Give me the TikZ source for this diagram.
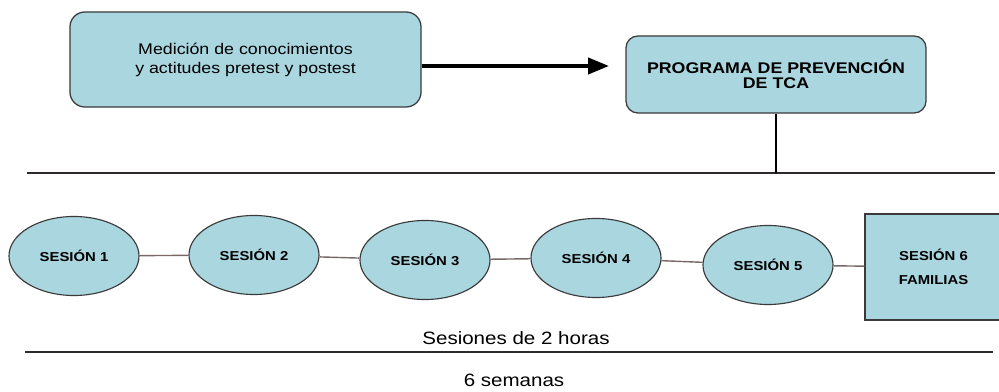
\documentclass[tikz,border=0pt]{standalone}
\usepackage{fontspec}
\setmainfont{Liberation Sans}[FakeStretch=1.15]
\usepackage{xcolor}
\usepackage{tikz}
\usetikzlibrary{arrows.meta,shapes.geometric}
\definecolor{tcaFill}{HTML}{AAD6E0}
\definecolor{tcaLine}{HTML}{3A3A3A}
\definecolor{tcaLink}{HTML}{7A6868}
\definecolor{tcaRule}{HTML}{2E2A2A}
\tikzset{
  tcabox/.style={
    rounded corners=#1,
    draw=tcaLine,
    fill=tcaFill,
    line width=0.9pt,
    align=center,
    inner sep=0pt
  },
  tcasesion/.style={
    ellipse,
    draw=tcaLine,
    fill=tcaFill,
    line width=0.8pt,
    minimum width=3.25cm,
    minimum height=1.975cm,
    inner sep=0pt,
    font=\fontsize{9.2}{11}\selectfont\bfseries
  },
  tcalink/.style={draw=tcaLink, line width=1pt},
  tcarule/.style={draw=tcaRule, line width=1.3pt},
  tcaarrow/.style={-{Triangle[length=15pt,width=11pt]}, line width=3.4pt, draw=black}
}

\begin{document}
\begin{tikzpicture}[x=0.025cm, y=-0.025cm, font=\fontsize{11}{13.5}\selectfont]
  \useasboundingbox (0,0) rectangle (999,392);

  \node[tcabox=0.375cm, minimum width=8.775cm, minimum height=2.375cm] (medicion) at (245.5,59.5) {Medición de conocimientos\\y actitudes pretest y postest};
  \node[tcabox=0.3cm, minimum width=7.5cm, minimum height=1.925cm, font=\fontsize{11}{10.8}\selectfont\bfseries] (programa) at (776,74.5) {PROGRAMA DE PREVENCIÓN\\DE TCA};

  \coordinate (flecha) at (0,66);
  \draw[tcaarrow, shorten >=0.4cm] (medicion.east |- flecha) -- (programa.west |- flecha);

  \coordinate (arribaIzq) at (27,173);
  \coordinate (arribaDer) at (995,173);
  \draw[tcarule] (arribaIzq) -- (arribaDer);
  \draw[line width=2.1pt] (programa.south) -- (programa.south |- arribaIzq);

  % sesiones
  \foreach \n/\x/\y in {1/74/256, 2/254/255, 3/425/260, 4/596/258, 5/768/265}
    \node[tcasesion] (sesion\n) at (\x,\y) {SESIÓN \n};
  \node[draw=tcaLine, fill=tcaFill, line width=0.9pt, minimum width=3.425cm, minimum height=2.65cm, inner sep=0pt, align=center, font=\fontsize{9.2}{17}\selectfont\bfseries] (sesion6) at (933.5,267) {SESIÓN 6\\FAMILIAS};
  \foreach \a/\b in {1/2, 2/3, 3/4, 4/5, 5/6}
    \draw[tcalink] (sesion\a) -- (sesion\b);

  \node[anchor=base, inner sep=0pt, font=\fontsize{12.7}{14}\selectfont] (horas) at (516,345) {Sesiones de 2 horas};
  \coordinate (abajoIzq) at (25,352);
  \coordinate (abajoDer) at (993,352);
  \draw[tcarule] (abajoIzq) -- (abajoDer);
  \node[anchor=base, inner sep=0pt, font=\fontsize{12.7}{14}\selectfont] (semanas) at (514,387) {6 semanas};
\end{tikzpicture}
\end{document}
